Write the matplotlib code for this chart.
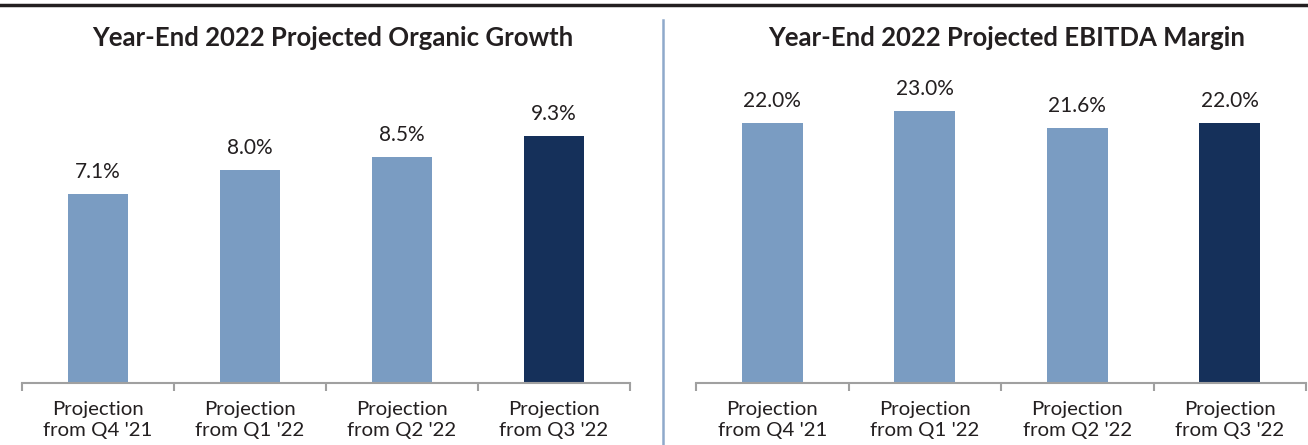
import matplotlib
matplotlib.use("Agg")
import matplotlib.pyplot as plt
from matplotlib.lines import Line2D

plt.rcParams['font.family'] = ['Lato', 'DejaVu Sans']

categories = ["Projection\nfrom Q4 '21", "Projection\nfrom Q1 '22",
              "Projection\nfrom Q2 '22", "Projection\nfrom Q3 '22"]
organic_growth = [7.1, 8.0, 8.5, 9.3]
ebitda_margin = [22.0, 23.0, 21.6, 22.0]
titles = ["Year-End 2022 Projected Organic Growth",
          "Year-End 2022 Projected EBITDA Margin"]

LIGHT = "#7A9CC2"
DARK = "#15305A"
TEXT = "#231F20"
AXIS = "#A0A0A0"

W, H = 1308, 445
fig = plt.figure(figsize=(W / 100, H / 100), dpi=100)

def px_axes(x0, x1, y_base, height):
    return fig.add_axes([x0 / W, (H - y_base) / H, (x1 - x0) / W, height / H])

panels = [
    (px_axes(22, 630, 383, 300), organic_growth, 300 / 26.6, 333),
    (px_axes(696, 1306, 383, 300), ebitda_margin, 300 / 11.82, 1007),
]

for (ax, values, ytop, title_x), title in zip(panels, titles):
    xs = range(len(values))
    colors = [LIGHT] * (len(values) - 1) + [DARK]
    ax.bar(xs, values, width=0.4, color=colors, zorder=2)
    for x, v in zip(xs, values):
        ax.annotate(f"{v:.1f}%", (x, v), xytext=(0, 8.5), textcoords="offset points",
                    ha="center", va="bottom", fontsize=15, color=TEXT)
    ax.set_xlim(-0.5, len(values) - 0.5)
    ax.set_ylim(0, ytop)
    for s in ("top", "right", "left"):
        ax.spines[s].set_visible(False)
    ax.spines["bottom"].set_color(AXIS)
    ax.spines["bottom"].set_linewidth(1.5)
    ax.set_yticks([])
    ax.set_xticks([i - 0.5 for i in range(len(values) + 1)])
    ax.set_xticklabels([])
    ax.tick_params(axis="x", which="major", length=6, width=1.5, color=AXIS)
    ax.set_xticks(list(xs), minor=True)
    ax.set_xticklabels(categories, minor=True, fontsize=14.7, color=TEXT,
                       linespacing=1.3)
    ax.tick_params(axis="x", which="minor", length=0, pad=13)
    fig.text(title_x / W, 1 - 38 / H, title, ha="center", va="center",
             fontsize=18.5, fontweight="bold", color=TEXT)

# heading rule and panel divider
fig.add_artist(Line2D([0, 1], [1 - 5 / H, 1 - 5 / H], transform=fig.transFigure,
                      color=TEXT, linewidth=2.5))
fig.add_artist(Line2D([663 / W, 663 / W], [0, 1 - 20 / H], transform=fig.transFigure,
                      color="#8FA9CB", linewidth=1.8))

fig.savefig("out.png", dpi=100, facecolor="white")
